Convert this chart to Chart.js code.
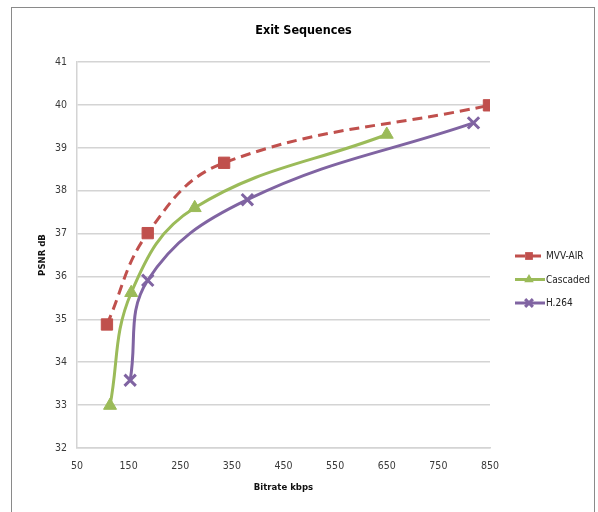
<!DOCTYPE html>
<html>
<head>
<meta charset="utf-8">
<script src="https://cdn.jsdelivr.net/npm/chart.js@4/dist/chart.umd.min.js"></script>
<style>
  html, body { margin: 0; padding: 0; background: #fff; }
  #wrap { position: relative; width: 598px; height: 512px; overflow: hidden; }
  #frame { position: absolute; left: 11px; top: 7px; width: 584px; height: 520px; border: 1px solid #8a8a8a; box-sizing: border-box; pointer-events: none; }
  canvas { position: absolute; left: 0; top: 0; }
</style>
</head>
<body>
<div id="wrap">
  <canvas id="c" width="598" height="512"></canvas>
  <div id="frame"></div>
</div>
<script>
const chartTitle = "Exit Sequences";
const xAxisTitle = "Bitrate kbps";
const yAxisTitle = "PSNR dB";
const seriesNames = ["MVV-AIR", "Cascaded", "H.264"];

const mvvBitrate = [108, 187, 335, 848];
const mvvPsnr = [34.88, 37.01, 38.65, 39.99];

const cascBitrate = [114, 155, 278, 650];
const cascPsnr = [32.99, 35.62, 37.60, 39.31];

const h264Bitrate = [153, 187, 380, 818];
const h264Psnr = [33.58, 35.91, 37.79, 39.58];

const xTicks = [50, 150, 250, 350, 450, 550, 650, 750, 850];
const yTicks = [32, 33, 34, 35, 36, 37, 38, 39, 40, 41];

const FONT = "'DejaVu Sans Condensed', 'Liberation Sans', sans-serif";

function pts(xs, ys) { return xs.map((x, i) => ({ x: x, y: ys[i] })); }

const seriesStyles = [
  { color: '#C0504D', dash: [10, 6], pointStyle: 'rect', radius: 8 },
  { color: '#9BBB59', dash: [], pointStyle: 'triangle', radius: 7.5 },
  { color: '#8064A2', dash: [], pointStyle: 'crossRot', radius: 8 }
];
const seriesData = [pts(mvvBitrate, mvvPsnr), pts(cascBitrate, cascPsnr), pts(h264Bitrate, h264Psnr)];

const datasets = seriesNames.map((name, i) => ({
  label: name,
  data: seriesData[i],
  borderColor: seriesStyles[i].color,
  backgroundColor: seriesStyles[i].color,
  borderWidth: 3,
  borderDash: seriesStyles[i].dash,
  tension: 0.4,
  pointStyle: seriesStyles[i].pointStyle,
  pointRadius: seriesStyles[i].radius,
  pointBorderWidth: seriesStyles[i].pointStyle === 'crossRot' ? 3 : 1,
  pointBorderColor: seriesStyles[i].color,
  pointBackgroundColor: seriesStyles[i].color,
  fill: false
}));

function drawMarker(ctx, style, r, x, y, color) {
  ctx.save();
  ctx.setLineDash([]);
  ctx.fillStyle = color;
  ctx.strokeStyle = color;
  ctx.beginPath();
  if (style === 'rect') {
    const s = r * Math.SQRT1_2;
    ctx.rect(x - s, y - s, 2 * s, 2 * s);
    ctx.fill();
  } else if (style === 'triangle') {
    ctx.moveTo(x, y - r);
    ctx.lineTo(x + r * Math.sin(Math.PI / 3), y + r / 2);
    ctx.lineTo(x - r * Math.sin(Math.PI / 3), y + r / 2);
    ctx.closePath();
    ctx.fill();
  } else {
    const o = r * Math.SQRT1_2;
    ctx.lineWidth = 3;
    ctx.moveTo(x - o, y - o); ctx.lineTo(x + o, y + o);
    ctx.moveTo(x - o, y + o); ctx.lineTo(x + o, y - o);
    ctx.stroke();
  }
  ctx.restore();
}

const decorPlugin = {
  id: 'decor',
  afterDraw(chart) {
    const ctx = chart.ctx;
    ctx.save();
    ctx.fillStyle = '#000';
    ctx.font = "bold 12.5px " + FONT;
    ctx.textAlign = 'center';
    ctx.textBaseline = 'middle';
    ctx.fillText(chartTitle, 303.5, 31);
    const x0 = 515, x1 = 545, ys = [256, 279.5, 303];
    chart.data.datasets.forEach((ds, i) => {
      const y = ys[i];
      ctx.save();
      ctx.strokeStyle = ds.borderColor;
      ctx.lineWidth = 3;
      ctx.setLineDash(ds.borderDash || []);
      ctx.beginPath();
      ctx.moveTo(x0, y); ctx.lineTo(x1, y);
      ctx.stroke();
      ctx.restore();
      drawMarker(ctx, ds.pointStyle, 5.5, 529, y, ds.borderColor);
      ctx.fillStyle = '#222';
      ctx.font = "10px " + FONT;
      ctx.textAlign = 'left';
      ctx.textBaseline = 'middle';
      ctx.fillText(ds.label, 546, y + 0.5);
    });
    ctx.restore();
  }
};

new Chart(document.getElementById('c'), {
  type: 'line',
  data: { datasets: datasets },
  plugins: [decorPlugin],
  options: {
    responsive: false,
    animation: false,
    devicePixelRatio: 1,
    layout: { padding: { left: 36, right: 108, top: 62, bottom: 14 } },
    plugins: { legend: { display: false }, title: { display: false }, tooltip: { enabled: false } },
    scales: {
      x: {
        type: 'linear',
        min: 50, max: 850,
        afterBuildTicks(scale) { scale.ticks = xTicks.map(v => ({ value: v })); },
        afterFit(scale) { scale.height = 50; },
        grid: { display: false, drawTicks: false },
        border: { display: true, color: '#d4d4d4', width: 1.5 },
        ticks: { padding: 12, color: '#3a3a3a', font: { family: FONT, size: 10.5 }, maxRotation: 0, autoSkip: false },
        title: { display: true, text: xAxisTitle, color: '#111', font: { family: FONT, size: 9.5, weight: 'bold' }, padding: { top: 4, bottom: 5 } }
      },
      y: {
        type: 'linear',
        min: 32, max: 41,
        afterBuildTicks(scale) { scale.ticks = yTicks.map(v => ({ value: v })); },
        afterFit(scale) { scale.width = 41; },
        grid: { color: '#d4d4d4', lineWidth: 1.5, drawTicks: false },
        border: { display: true, color: '#d4d4d4', width: 1.5 },
        ticks: { padding: 10, color: '#3a3a3a', font: { family: FONT, size: 10.5 }, autoSkip: false },
        title: { display: true, text: yAxisTitle, color: '#111', font: { family: FONT, size: 9.5, weight: 'bold' }, padding: { top: 1, bottom: 4 } }
      }
    }
  }
});
</script>
</body>
</html>
